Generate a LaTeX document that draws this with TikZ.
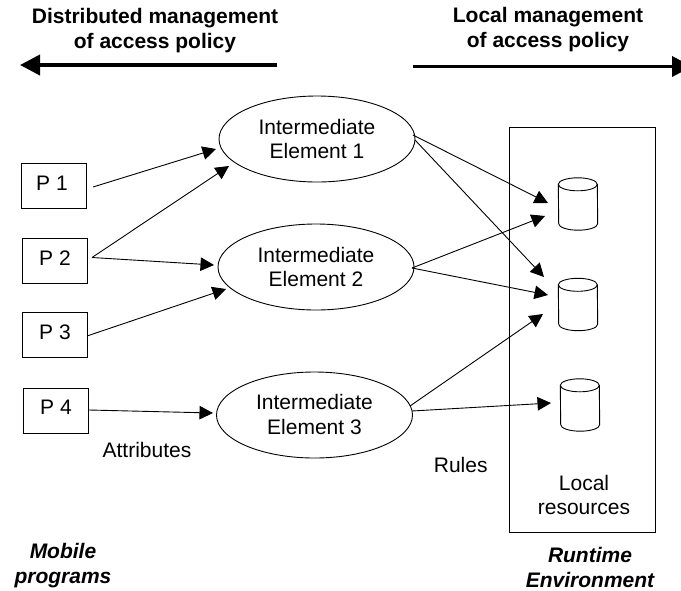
\documentclass[tikz,border=0pt]{standalone}
\usepackage{fontspec}
\setmainfont{Liberation Sans}
\usetikzlibrary{shapes.geometric,arrows.meta}
\tikzset{
  x=1pt,y=-1pt,
  box/.style={draw,line width=0.9pt,minimum width=65pt,minimum height=45pt,inner sep=0pt},
  elem/.style={draw,line width=0.9pt,ellipse,minimum width=196pt,minimum height=86pt,inner sep=0pt},
  storebase/.style={minimum width=39pt,minimum height=52pt,inner sep=0pt},
  drumline/.style={line width=0.9pt},
  lab/.style={align=center,inner sep=0pt,font=\fontsize{21}{24.5}\selectfont},
  head/.style={align=center,inner sep=0pt,font=\fontsize{21}{25}\selectfont\bfseries},
  side/.style={align=center,inner sep=0pt,font=\fontsize{21}{25}\selectfont\bfseries\itshape},
  conn/.style={line width=0.9pt,-{Triangle[length=13.5pt,width=13.5pt]}},
  bigconn/.style={line width=3.8pt,-{Triangle[length=20pt,width=20pt]}}
}
\newcommand{\drum}[2]{%
  \node[storebase] (#1) at (#2) {};
  \draw[drumline] ([yshift=-6.5pt]#1.north west) arc[start angle=180,end angle=0,x radius=19.5pt,y radius=6.5pt]
    -- ([yshift=6.5pt]#1.south east) arc[start angle=0,end angle=-180,x radius=19.5pt,y radius=6.5pt] -- cycle;
  \draw[drumline] ([yshift=-6.5pt]#1.north west) arc[start angle=180,end angle=360,x radius=19.5pt,y radius=6.5pt];
}
\begin{document}
\begin{tikzpicture}
\useasboundingbox (0,0) rectangle (681,590);
\node[draw,line width=0.9pt,minimum width=146pt,minimum height=405pt,inner sep=0pt] (env) at (582,329.5) {};
\node[box] (p1) at (53.5,185.5) {};
\node[box] (p2) at (54.5,260.5) {};
\node[box] (p3) at (54.5,334.5) {};
\node[box] (p4) at (56,410.5) {};
\node[lab] (p1t) at (52,183) {P 1};
\node[lab] (p2t) at (55,258) {P 2};
\node[lab] (p3t) at (55,332) {P 3};
\node[lab] (p4t) at (56,407) {P 4};
\node[elem] (e1) at (317,139) {};
\node[elem] (e2) at (316,267) {};
\node[elem] (e3) at (314.5,415) {};
\node[lab] (e1t) at (317,139) {Intermediate\\Element 1};
\node[lab] (e2t) at (316,267) {Intermediate\\Element 2};
\node[lab] (e3t) at (314.5,414.5) {Intermediate\\Element 3};
\drum{c1}{578,204}
\drum{c2}{578,304.5}
\drum{c3}{580,405}
\node[head] (t1) at (155,30.5) {Distributed management\\of access policy};
\node[head] (t2) at (548,29.5) {Local management\\of access policy};
\node[lab] (attr) at (147,450) {Attributes};
\node[lab] (rules) at (460.7,465) {Rules};
\node[lab] (res) at (584,495) {Local\\resources};
\node[side] (mob) at (63,565.5) {Mobile\\programs};
\node[side] (run) at (590,567) {Runtime\\Environment};
\coordinate (al) at (277,65); \coordinate (alt) at (20,65);
\coordinate (ar) at (413,66.5); \coordinate (art) at (692,66.5);
\draw[bigconn] (al) -- (alt);
\draw[bigconn] (ar) -- (art);
\coordinate (a1) at (93,187); \coordinate (b1) at (216,149);
\coordinate (a2) at (92,257.5); \coordinate (b2) at (229,166); \coordinate (b3) at (214,265);
\coordinate (a3) at (87,336); \coordinate (b4) at (226,289);
\coordinate (a4) at (89,410); \coordinate (b5) at (213,413);
\draw[conn] (a1) -- (b1);
\draw[conn] (a2) -- (b2);
\draw[conn] (a2) -- (b3);
\draw[conn] (a3) -- (b4);
\draw[conn] (a4) -- (b5);
\coordinate (o1) at (413,135); \coordinate (o1b) at (415,140);
\coordinate (o2) at (412,268);
\coordinate (o3) at (410,406); \coordinate (o3b) at (412,411);
\coordinate (d1) at (548,203); \coordinate (d2) at (544,277); \coordinate (d3) at (545,216);
\coordinate (d4) at (548,295); \coordinate (d5) at (543,314); \coordinate (d6) at (551,403);
\draw[conn] (o1) -- (d1);
\draw[conn] (o1b) -- (d2);
\draw[conn] (o2) -- (d3);
\draw[conn] (o2) -- (d4);
\draw[conn] (o3) -- (d5);
\draw[conn] (o3b) -- (d6);
\end{tikzpicture}
\end{document}
